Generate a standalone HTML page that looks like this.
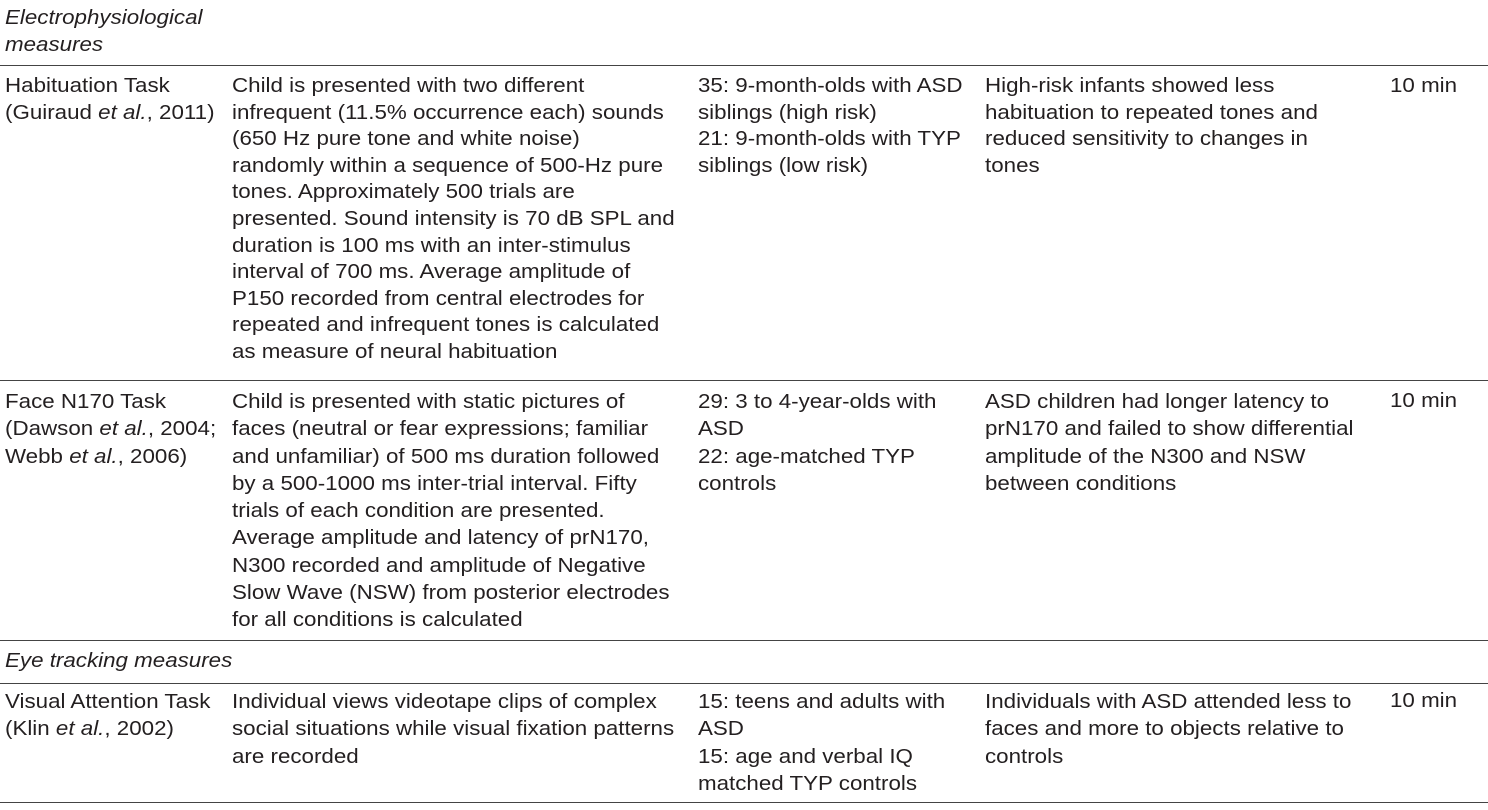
<!DOCTYPE html>
<html><head><meta charset="utf-8"><style>
body{margin:0;width:1488px;height:810px;background:#fff;position:relative;overflow:hidden;font-family:"Liberation Sans",sans-serif;font-size:20.5px;color:#231f20}
.c{position:absolute;line-height:26.6px;white-space:nowrap;transform:scaleX(1.09);transform-origin:0 0}
.r{position:absolute;left:0;width:1488px;height:1px;background:#444}
i{font-style:italic}
</style></head><body>
<div class="c" style="left:5px;top:5px"><i>Electrophysiological<br>measures</i></div>
<div class="r" style="top:65px"></div>

<div class="c" style="left:5px;top:73px">Habituation Task<br>(Guiraud <i>et al.</i>, 2011)</div>
<div class="c" style="left:232px;top:73px">Child is presented with two different<br>infrequent (11.5% occurrence each) sounds<br>(650 Hz pure tone and white noise)<br>randomly within a sequence of 500-Hz pure<br>tones. Approximately 500 trials are<br>presented. Sound intensity is 70 dB SPL and<br>duration is 100 ms with an inter-stimulus<br>interval of 700 ms. Average amplitude of<br>P150 recorded from central electrodes for<br>repeated and infrequent tones is calculated<br>as measure of neural habituation</div>
<div class="c" style="left:698px;top:73px">35: 9-month-olds with ASD<br>siblings (high risk)<br>21: 9-month-olds with TYP<br>siblings (low risk)</div>
<div class="c" style="left:985px;top:73px">High-risk infants showed less<br>habituation to repeated tones and<br>reduced sensitivity to changes in<br>tones</div>
<div class="c" style="left:1390px;top:73px">10 min</div>
<div class="r" style="top:380px"></div>

<div class="c" style="left:5px;top:388px;line-height:27.3px">Face N170 Task<br>(Dawson <i>et al.</i>, 2004;<br>Webb <i>et al.</i>, 2006)</div>
<div class="c" style="left:232px;top:388px;line-height:27.3px">Child is presented with static pictures of<br>faces (neutral or fear expressions; familiar<br>and unfamiliar) of 500 ms duration followed<br>by a 500-1000 ms inter-trial interval. Fifty<br>trials of each condition are presented.<br>Average amplitude and latency of prN170,<br>N300 recorded and amplitude of Negative<br>Slow Wave (NSW) from posterior electrodes<br>for all conditions is calculated</div>
<div class="c" style="left:698px;top:388px;line-height:27.3px">29: 3 to 4-year-olds with<br>ASD<br>22: age-matched TYP<br>controls</div>
<div class="c" style="left:985px;top:388px;line-height:27.3px">ASD children had longer latency to<br>prN170 and failed to show differential<br>amplitude of the N300 and NSW<br>between conditions</div>
<div class="c" style="left:1390px;top:388px">10 min</div>
<div class="r" style="top:640px"></div>

<div class="c" style="left:5px;top:648px"><i>Eye tracking measures</i></div>
<div class="r" style="top:683px"></div>

<div class="c" style="left:5px;top:688px;line-height:27.3px">Visual Attention Task<br>(Klin <i>et al.</i>, 2002)</div>
<div class="c" style="left:232px;top:688px;line-height:27.3px">Individual views videotape clips of complex<br>social situations while visual fixation patterns<br>are recorded</div>
<div class="c" style="left:698px;top:688px;line-height:27.3px">15: teens and adults with<br>ASD<br>15: age and verbal IQ<br>matched TYP controls</div>
<div class="c" style="left:985px;top:688px;line-height:27.3px">Individuals with ASD attended less to<br>faces and more to objects relative to<br>controls</div>
<div class="c" style="left:1390px;top:688px">10 min</div>
<div class="r" style="top:802px"></div>
</body></html>
